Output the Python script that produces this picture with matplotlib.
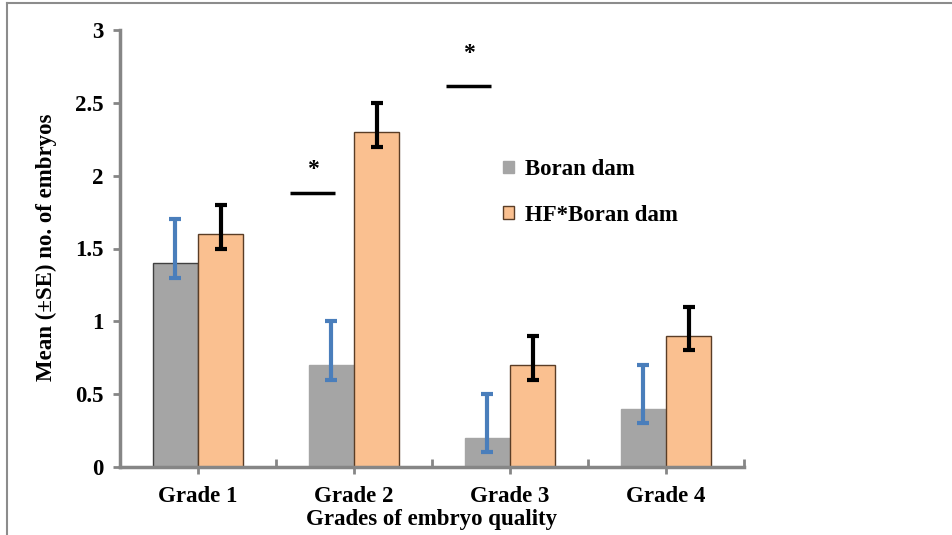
import matplotlib
matplotlib.use("Agg")
import matplotlib.pyplot as plt
import numpy as np
from matplotlib.lines import Line2D
from matplotlib.patches import Rectangle

# ---- data -------------------------------------------------------------------
grades = ["Grade 1", "Grade 2", "Grade 3", "Grade 4"]
boran = [1.4, 0.7, 0.2, 0.4]
boran_err_lo = [1.3, 0.6, 0.1, 0.3]
boran_err_hi = [1.7, 1.0, 0.5, 0.7]
hf = [1.6, 2.3, 0.7, 0.9]
hf_err_lo = [1.5, 2.2, 0.6, 0.8]
hf_err_hi = [1.8, 2.5, 0.9, 1.1]
series_names = ["Boran dam", "HF*Boran dam"]
yticks = [0, 0.5, 1, 1.5, 2, 2.5, 3]
ytick_labels = ["0", "0.5", "1", "1.5", "2", "2.5", "3"]
# significance marks: (category index, line y, star y)
sig_marks = [(1, 1.88, 2.04), (2, 2.615, 2.84)]

GRAY = "#A5A5A5"
ORANGE = "#FAC090"
AXIS = "#868686"
BLUE = "#4A7EBB"
FS = 16.5

plt.rcParams["font.family"] = ["Liberation Serif", "DejaVu Serif"]
plt.rcParams["font.weight"] = "bold"

fig = plt.figure(figsize=(9.52, 5.35), dpi=100)
ax = fig.add_axes([120 / 952, 1 - 467 / 535, 624 / 952, 437 / 535])

x = np.arange(len(grades))
w = 0.29
ax.bar(x - w / 2, boran, w, color=GRAY,
       edgecolor=["#404040", GRAY, GRAY, GRAY], linewidth=1.0, zorder=2)
ax.bar(x + w / 2, hf, w, color=ORANGE, edgecolor="#5a3d26",
       linewidth=1.0, zorder=2)

b = np.array(boran)
h = np.array(hf)
ax.errorbar(x - w / 2, b, yerr=[b - np.array(boran_err_lo), np.array(boran_err_hi) - b],
            fmt="none", ecolor=BLUE, elinewidth=3, capsize=4, capthick=3, zorder=3)
ax.errorbar(x + w / 2, h, yerr=[h - np.array(hf_err_lo), np.array(hf_err_hi) - h],
            fmt="none", ecolor="black", elinewidth=3, capsize=4, capthick=3, zorder=3)

for i, ly, sy in sig_marks:
    ax.plot([i - 0.41, i - 0.12], [ly, ly], color="black", lw=2.5,
            solid_capstyle="butt", zorder=3)
    ax.text(i - 0.265, sy, "*", ha="center", va="center", fontsize=17)

ax.set_xlim(-0.5, 3.5)
ax.set_ylim(0, 3)
ax.set_yticks(yticks)
ax.set_yticklabels(ytick_labels, fontsize=FS, fontweight="bold")
ax.set_xticks(x)
ax.set_xticklabels(grades, fontsize=FS, fontweight="bold")
ax.tick_params(axis="x", length=5, width=2, color=AXIS, pad=9)
ax.tick_params(axis="y", length=5, width=2, color=AXIS, pad=7)
ax.set_xticks(np.arange(-0.5, 4.0, 1.0), minor=True)
ax.tick_params(axis="x", which="minor", direction="in", length=6, width=2, color=AXIS)

for s in ["top", "right"]:
    ax.spines[s].set_visible(False)
for s in ["left", "bottom"]:
    ax.spines[s].set_color(AXIS)
    ax.spines[s].set_linewidth(2.5)

fig.text(46 / 952, 1 - 247 / 535, "Mean (\u00b1SE) no. of embryos", rotation=90,
         ha="center", va="center", fontsize=FS, fontweight="bold")
fig.text(432 / 952, 1 - 519 / 535, "Grades of embryo quality",
         ha="center", va="center", fontsize=FS, fontweight="bold")

handles = [Rectangle((0, 0), 1, 1, facecolor=GRAY, edgecolor=GRAY),
           Rectangle((0, 0), 1, 1, facecolor=ORANGE, edgecolor="#5a3d26")]
ax.legend(handles, series_names, loc="upper left", bbox_to_anchor=(0.596, 0.731),
          frameon=False, handlelength=0.45, handleheight=0.45, borderpad=0,
          handletextpad=0.5, labelspacing=1.07, prop={"weight": "bold", "size": FS})

# outer frame (left + top only visible)
fig.add_artist(Line2D([7 / 952, 7 / 952], [0, 1 - 3 / 535], color="#8c8c8c", lw=1.5))
fig.add_artist(Line2D([7 / 952, 1], [1 - 3 / 535, 1 - 3 / 535], color="#8c8c8c", lw=1.5))

fig.savefig("out.png", dpi=100)
